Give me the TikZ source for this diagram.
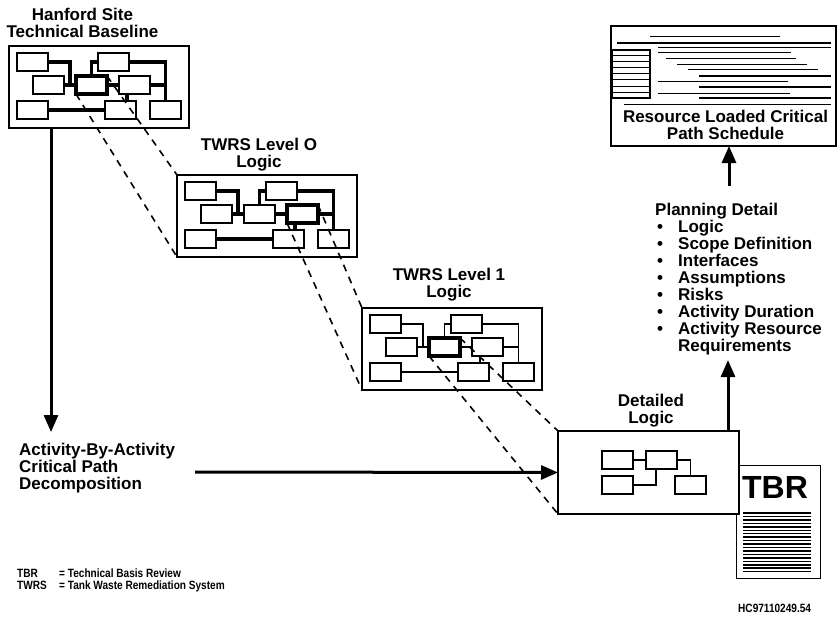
\documentclass[tikz,border=0pt]{standalone}
\usepackage{fontspec}
\setmainfont{Liberation Sans}
\newfontfamily\narrowfont{Liberation Sans}[FakeStretch=0.84]
\usetikzlibrary{calc,positioning,arrows.meta}

\tikzset{
  outer/.style={draw, line width=1.8pt, fill=white, minimum width=180pt, minimum height=82pt, inner sep=0pt, outer sep=0pt},
  cell/.style={draw, line width=1.6pt, fill=white, minimum width=31pt, minimum height=18pt, inner sep=0pt, outer sep=0pt},
  heading/.style={font=\bfseries\fontsize{17}{17}\selectfont, align=center, inner sep=0pt},
  listtext/.style={font=\bfseries\fontsize{17}{17}\selectfont, align=left, inner sep=0pt},
  legend/.style={font=\narrowfont\bfseries\fontsize{12}{11.5}\selectfont, align=left, inner sep=0pt},
  zoomline/.style={line width=1.6pt, dash pattern=on 7pt off 6pt},
  bigarrow/.style={line width=3pt, -{Triangle[length=17pt,width=14pt]}},
}

% one small logic network: #1 name, #2,#3 top left, #4 link width, #5 bold cell
\newcommand{\logicnet}[5]{%
  \begin{scope}[shift={(#2,#3)}]
    \node[outer] (#1) at (90,41) {};
    \foreach \nm/\cx/\cy in {a/23.5/16, b/104.5/16, c/39.5/39, d/82.5/39, e/125.5/39, f/23.5/64, g/111.5/64, h/156.5/64}
      \node[cell] (#1-\nm) at (\cx,\cy) {};
    \draw[line width=#4] (#1-a.east) -| ($(#1-c.east)!0.5!(#1-d.west)$);
    \draw[line width=#4] (#1-c) -- (#1-d) -- (#1-e);
    \draw[line width=#4] (#1-b.west) -| (#1-d.north);
    \draw[line width=#4] (#1-b.east) -| (#1-h.north);
    \draw[line width=#4] (#1-e.east) -- (#1-e.east -| #1-h.north);
    \draw[line width=#4] ([xshift=8pt]#1-e.south west) -- ([xshift=8pt]#1-e.south west |- #1-g.north);
    \draw[line width=#4] (#1-f) -- (#1-g);
    \draw[line width=3.4pt] (#1-#5.south west) rectangle (#1-#5.north east);
  \end{scope}}

\newcommand{\blt}{\makebox[23pt][l]{\hspace{2pt}\textbullet}}

\begin{document}
\begin{tikzpicture}[x=1pt,y=-1pt]
  %%%%% START %%%%%
  \fill[white] (0,0) rectangle (838,618);
  \useasboundingbox (0,0) rectangle (838,618);

  % levels of logic
  \logicnet{hsb}{9}{46}{3.2pt}{d}
  \logicnet{lvo}{177}{175}{3.2pt}{e}
  \logicnet{lvi}{362}{308}{1.3pt}{d}

  \node[heading, anchor=north] (hsbt) at (82.5,8) {Hanford Site\\Technical Baseline};
  \node[heading, anchor=north] (lvot) at (259,138) {TWRS Level O\\Logic};
  \node[heading, anchor=north] (lvit) at (449,268) {TWRS Level 1\\Logic};

  % TBR document
  \draw[line width=1pt] (736,465) rectangle (820,578);
  \node[font=\bfseries\fontsize{32}{32}\selectfont, inner sep=0pt] (tbr) at (775,487.5) {TBR};
  \foreach \k in {0,...,17}
    \draw[line width=1.5pt] (743,513+\k*3.45) -- (811,513+\k*3.45);

  % detailed logic
  \node[outer, minimum width=181pt, minimum height=83pt] (det) at (648.5,472.5) {};
  \node[cell] (det-a) at (617.5,460) {};
  \node[cell] (det-b) at (661.5,460) {};
  \node[cell] (det-c) at (617.5,485) {};
  \node[cell] (det-d) at (690.5,485) {};
  \draw[line width=1.3pt] (det-a) -- (det-b);
  \draw[line width=1.3pt] (det-b.east) -| (det-d.north);
  \draw[line width=1.3pt] (det-c.east) -| ([xshift=10pt]det-b.south west);
  \node[heading, anchor=north] (dett) at (651,394) {Detailed\\Logic};

  % zoom lines
  \draw[zoomline] (hsb-d.north east) -- (lvo.north west);
  \draw[zoomline] (hsb-d.south west) -- (lvo.south west);
  \draw[zoomline] (lvo-e.north east) -- (lvi.north west);
  \draw[zoomline] (lvo-e.south west) -- (lvi.south west);
  \draw[zoomline] (lvi-d.north east) -- (det.north west);
  \draw[zoomline] (lvi-d.south west) -- (det.south west);

  % schedule
  \node[outer, minimum width=225pt, minimum height=120pt] (res) at (723.5,86) {};
  \draw[line width=1.2pt] (612,50) rectangle (650,98);
  \foreach \ty in {56,62,68,74,80,86,92}
    \draw[line width=1pt] (612,\ty) -- (650,\ty);
  \foreach \ty/\xa/\xb/\lw in {37/650/780/1, 43/617/831/1.2, 48/658/831/1, 53/658/791/1, 59/666/796/1,
      65/677/807/1, 70/688/818/1, 76/699/831/2, 82/658/788/1, 87/699/831/2, 93/658/790/1, 98/699/831/1.2, 104/624/831/1}
    \draw[line width=\lw pt] (\xa,\ty) -- (\xb,\ty);
  \node[heading, anchor=north] (rest) at (725.5,110) {Resource Loaded Critical\\Path Schedule};

  % planning detail
  \node[listtext, anchor=north west] (plan) at (655,203) {Planning Detail\\\blt Logic\\\blt Scope Definition\\\blt Interfaces\\\blt Assumptions\\\blt Risks\\\blt Activity Duration\\\blt Activity Resource\\\hspace*{23pt}Requirements};

  % decomposition
  \node[listtext, anchor=north west] (act) at (19,443) {Activity-By-Activity\\Critical Path\\Decomposition};

  % arrows
  \coordinate (actin) at (51,432);
  \coordinate (actout) at (195,472);
  \coordinate (planin) at (728,360);
  \coordinate (planout) at (729,186);
  \draw[bigarrow] ([xshift=42pt]hsb.south west) -- (actin);
  \draw[bigarrow] (actout) -- (det.west);
  \draw[bigarrow] ([xshift=-11pt]det.north east) -- (planin);
  \draw[bigarrow] (planout) -- (planout |- res.south);

  % legend
  \node[legend, anchor=north west] (leg) at (17,569) {\makebox[42pt][l]{TBR}= Technical Basis Review\\\makebox[42pt][l]{TWRS}= Tank Waste Remediation System};
  \node[legend, anchor=north west] (hcnum) at (738,604) {HC97110249.54};
  %%%%% END %%%%%
\end{tikzpicture}
\end{document}
